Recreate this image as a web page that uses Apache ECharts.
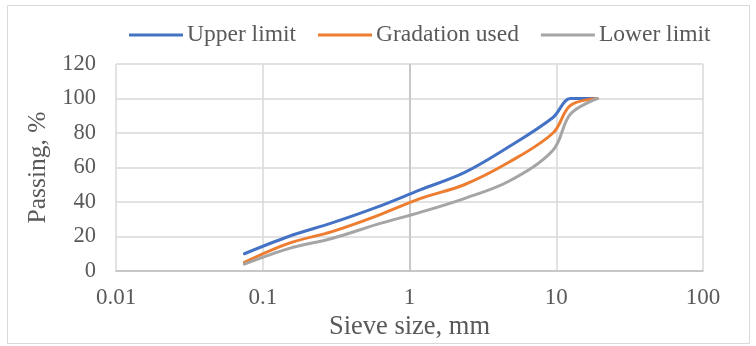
<!DOCTYPE html>
<html>
<head>
<meta charset="utf-8">
<script src="https://cdn.jsdelivr.net/npm/echarts@6/dist/echarts.min.js"></script>
<style>
  html, body { margin: 0; padding: 0; background: #fff; }
  #chart { width: 756px; height: 346px; }
</style>
</head>
<body>
<div id="chart"></div>
<script>
// Sieve sizes (mm) and percent passing for each gradation curve
const sieveSizes = [0.075, 0.15, 0.3, 0.6, 1.18, 2.36, 4.75, 9.5, 12.5, 19];
const upperLimit = [10, 20, 28, 37, 47, 57, 72, 89, 100, 100];
const gradationUsed = [5, 16, 23, 32, 42, 50, 63, 80, 96, 100];
const lowerLimit = [4, 13, 19, 27, 34, 42, 52, 70, 91, 100];
const xTicks = [0.01, 0.1, 1, 10, 100];
const yTicks = [0, 20, 40, 60, 80, 100, 120];

const FONT = '"Liberation Serif", "Times New Roman", serif';
const TEXT = '#595959';

function pairs(vals) {
  return sieveSizes.map((s, i) => [s, vals[i]]);
}

function curve(name, vals, color, extra) {
  return Object.assign({
    name: name,
    type: 'line',
    data: pairs(vals),
    smooth: 0.35,
    showSymbol: false,
    symbol: 'none',
    lineStyle: { width: 3, color: color, cap: 'round', join: 'round' },
    itemStyle: { color: color },
    emphasis: { disabled: true }
  }, extra || {});
}

const chart = echarts.init(document.getElementById('chart'), null, { renderer: 'canvas' });
chart.setOption({
  animation: false,
  backgroundColor: '#fff',
  textStyle: { fontFamily: FONT },
  graphic: [{
    type: 'rect',
    shape: { x: 7.5, y: 5.5, width: 742, height: 338 },
    style: { fill: null, stroke: '#d9d9d9', lineWidth: 1 },
    silent: true,
    z: -1
  }],
  legend: {
    top: 18,
    left: 124,
    itemWidth: 54,
    itemHeight: 3,
    itemGap: 22,
    icon: 'rect',
    textStyle: { fontFamily: FONT, fontSize: 23.5, color: TEXT, padding: [0, 0, 0, -1] },
    data: ['Upper limit', 'Gradation used', 'Lower limit']
  },
  grid: { left: 116, right: 53, top: 64, bottom: 75, containLabel: false },
  xAxis: {
    type: 'log',
    logBase: 10,
    min: xTicks[0],
    max: xTicks[xTicks.length - 1],
    name: 'Sieve size, mm',
    nameLocation: 'middle',
    nameGap: 40,
    nameTextStyle: { fontFamily: FONT, fontSize: 26.5, color: TEXT, verticalAlign: 'top' },
    axisLine: { show: true, lineStyle: { color: '#bfbfbf', width: 1.5 } },
    axisTick: { show: false },
    axisLabel: {
      fontFamily: FONT, fontSize: 23, color: TEXT, margin: 15,
      formatter: v => String(xTicks.find(t => Math.abs(Math.log10(t) - Math.log10(v)) < 1e-6) ?? v)
    },
    splitLine: { show: true, lineStyle: { color: '#d9d9d9', width: 1.5 } }
  },
  yAxis: {
    type: 'value',
    min: yTicks[0],
    max: yTicks[yTicks.length - 1],
    interval: 20,
    name: 'Passing, %',
    nameLocation: 'middle',
    nameGap: 58,
    nameRotate: 90,
    nameTextStyle: { fontFamily: FONT, fontSize: 25.5, color: TEXT },
    axisLine: { show: false },
    axisTick: { show: false },
    axisLabel: { fontFamily: FONT, fontSize: 22.5, color: TEXT, margin: 20 },
    splitLine: { show: true, lineStyle: { color: '#d9d9d9', width: 1.5 } }
  },
  series: [
    curve('Upper limit', upperLimit, '#4472C4', {
      // vertical axis crosses the log axis at 1 mm
      markLine: {
        silent: true,
        symbol: 'none',
        label: { show: false },
        lineStyle: { color: '#bfbfbf', width: 1.5, type: 'solid' },
        data: [{ xAxis: 1 }],
        z: 1
      }
    }),
    curve('Gradation used', gradationUsed, '#ED7D31'),
    curve('Lower limit', lowerLimit, '#A5A5A5')
  ]
});
</script>
</body>
</html>
